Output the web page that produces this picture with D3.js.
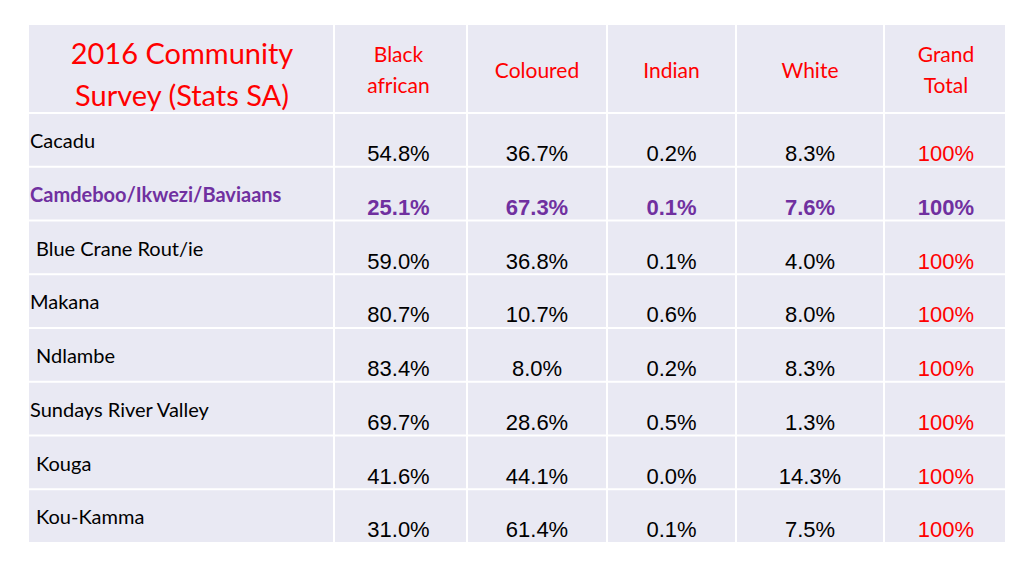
<!DOCTYPE html>
<html lang="en">
<head>
<meta charset="utf-8">
<script src="https://d3js.org/d3.v7.min.js"></script>
<style>
body { margin: 0; background: #fff; }
</style>
</head>
<body>
<svg id="chart" width="1024" height="576"></svg>
<script>
// data
var columns = ["Black african", "Coloured", "Indian", "White", "Grand Total"];
var places = ["Cacadu", "Camdeboo/Ikwezi/Baviaans", "Blue Crane Rout/ie", "Makana",
  "Ndlambe", "Sundays River Valley", "Kouga", "Kou-Kamma"];
var blackAfrican = ["54.8%", "25.1%", "59.0%", "80.7%", "83.4%", "69.7%", "41.6%", "31.0%"];
var coloured = ["36.7%", "67.3%", "36.8%", "10.7%", "8.0%", "28.6%", "44.1%", "61.4%"];
var indian = ["0.2%", "0.1%", "0.1%", "0.6%", "0.2%", "0.5%", "0.0%", "0.1%"];
var white = ["8.3%", "7.6%", "4.0%", "8.0%", "8.3%", "1.3%", "14.3%", "7.5%"];
var grandTotal = ["100%", "100%", "100%", "100%", "100%", "100%", "100%", "100%"];
var highlight = "Camdeboo/Ikwezi/Baviaans";

var series = [blackAfrican, coloured, indian, white, grandTotal];
var svg = d3.select("#chart");
var bg = "#e9e9f3", purple = "#7030a0";

// column edges
var edges = [28, 334, 467, 607, 736, 884, 1006];
var topY = 24, headH = 89;
var y = d3.scaleBand().domain(places).range([topY + headH, 543]).paddingInner(0);

var cells = [];
var allRows = ["__head"].concat(places);
allRows.forEach(function(r, ri) {
  for (var c = 0; c < 6; c++) {
    var y0 = ri === 0 ? topY : y(r), h = ri === 0 ? headH : y.bandwidth();
    cells.push({x: edges[c], y: y0, w: edges[c + 1] - edges[c], h: h});
  }
});
svg.selectAll("rect.cell").data(cells).enter().append("rect")
  .attr("class", "cell")
  .attr("x", function(d) { return d.x + 1; })
  .attr("y", function(d) { return d.y + 1; })
  .attr("width", function(d) { return d.w - 2; })
  .attr("height", function(d) { return d.h - 2; })
  .attr("fill", bg);

// title
var title = svg.append("text").attr("fill", "#ff0000")
  .attr("font-family", "Lato, 'Open Sans', sans-serif").attr("font-size", 29)
  .attr("text-anchor", "middle");
title.append("tspan").attr("x", 182).attr("y", 64).text("2016 Community");
title.append("tspan").attr("x", 182).attr("y", 106).text("Survey  (Stats SA)");

// column headers
columns.forEach(function(c, i) {
  var cx = (edges[i + 1] + edges[i + 2]) / 2 + (i === 0 ? -2 : i === 4 ? 1 : 0);
  var parts = c === "Coloured" || c === "Indian" || c === "White" ? [c] : c.split(" ");
  var t = svg.append("text").attr("fill", "#ff0000")
    .attr("font-family", "Lato, 'Open Sans', sans-serif").attr("font-size", 21)
    .attr("text-anchor", "middle");
  parts.forEach(function(p, k) {
    t.append("tspan").attr("x", cx)
      .attr("y", parts.length === 1 ? 78 : 62 + k * 31).text(p);
  });
});

// row labels
svg.selectAll("text.place").data(places).enter().append("text")
  .attr("class", "place")
  .attr("x", function(d, i) { return [2, 4, 6, 7].indexOf(i) >= 0 ? 36 : 30; })
  .attr("y", function(d) { return y(d) + 35; })
  .attr("font-family", "Lato, 'Open Sans', sans-serif")
  .attr("font-size", 20)
  .attr("font-weight", function(d) { return d === highlight ? "bold" : "normal"; })
  .attr("fill", function(d) { return d === highlight ? purple : "#000"; })
  .text(function(d) { return d; });

// values
series.forEach(function(vals, ci) {
  var cx = (edges[ci + 1] + edges[ci + 2]) / 2 + (ci === 0 ? -2 : ci === 4 ? 1 : 0);
  svg.selectAll("text.v" + ci).data(vals).enter().append("text")
    .attr("class", "v" + ci)
    .attr("x", cx)
    .attr("y", function(d, i) { return y(places[i]) + 48; })
    .attr("text-anchor", "middle")
    .attr("font-family", "'Liberation Sans', Arial, sans-serif")
    .attr("font-size", 22)
    .attr("font-weight", function(d, i) { return places[i] === highlight ? "bold" : "normal"; })
    .attr("fill", function(d, i) {
      if (places[i] === highlight) return purple;
      return ci === 4 ? "#ff0000" : "#000";
    })
    .text(function(d) { return d; });
});
</script>
</body>
</html>
